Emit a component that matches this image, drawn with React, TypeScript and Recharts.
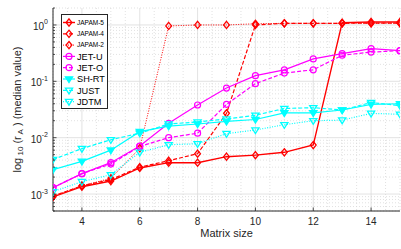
import React from 'react';
import { LineChart, Line, XAxis, YAxis, CartesianGrid, Legend, Label } from 'recharts';

// ---------- data ----------
const sizes = [3, 4, 5, 6, 7, 8, 9, 10, 11, 12, 13, 14, 15];
const japam5 = [0.00089, 0.00135, 0.0017, 0.0029, 0.0036, 0.0036, 0.0046, 0.0049, 0.0055, 0.0074, 1.1, 1.13, 1.13];
const japam4 = [0.00092, 0.0014, 0.0018, 0.003, 0.0039, 0.0052, 0.027, 1.0, 1.07, 1.07, 1.07, 1.08, 1.08];
const japam2 = [0.00092, 0.0014, 0.0019, 0.0065, 0.96, 1.0, 1.0, 1.05, 1.07, 1.07, 1.07, 1.07, 1.07];
const jetU = [0.0013, 0.0023, 0.0036, 0.0071, 0.018, 0.038, 0.076, 0.126, 0.16, 0.25, 0.31, 0.38, 0.35];
const jetO = [0.0013, 0.0023, 0.0034, 0.007, 0.0100, 0.012, 0.039, 0.091, 0.14, 0.16, 0.29, 0.33, 0.35];
const shrt = [0.0027, 0.0038, 0.006, 0.0128, 0.016, 0.0175, 0.0195, 0.021, 0.0276, 0.0276, 0.031, 0.039, 0.04];
const just = [0.0041, 0.0064, 0.0092, 0.012, 0.0175, 0.019, 0.0215, 0.025, 0.033, 0.034, 0.031, 0.042, 0.037];
const jdtm = [0.0011, 0.00166, 0.0022, 0.0055, 0.0075, 0.0078, 0.0118, 0.0137, 0.017, 0.02, 0.0205, 0.027, 0.026];

const xTicks = [4, 6, 8, 10, 12, 14];
const xMinorGrid = [3, 3.5, 4.5, 5, 5.5, 6.5, 7, 7.5, 8.5, 9, 9.5, 10.5, 11, 11.5, 12.5, 13, 13.5, 14.5, 15];
const yMajorTicks = [0.001, 0.01, 0.1, 1];
const yTickExponents = ['-3', '-2', '-1', '0'];
const yMinorTicks = [
  0.0005, 0.0006, 0.0007, 0.0008, 0.0009,
  0.002, 0.003, 0.004, 0.005, 0.006, 0.007, 0.008, 0.009,
  0.02, 0.03, 0.04, 0.05, 0.06, 0.07, 0.08, 0.09,
  0.2, 0.3, 0.4, 0.5, 0.6, 0.7, 0.8, 0.9,
  2,
];
const yAllTicks = [...yMinorTicks, ...yMajorTicks].sort((a, b) => a - b);

const data = sizes.map((s, i) => ({
  size: s,
  japam5: japam5[i],
  japam4: japam4[i],
  japam2: japam2[i],
  jetU: jetU[i],
  jetO: jetO[i],
  shrt: shrt[i],
  just: just[i],
  jdtm: jdtm[i],
}));

const RED = '#ff0000';
const MAG = '#ff00ff';
const CYAN = '#00ffff';
const AX = '#262626';
const FONT = '"Liberation Sans", Arial, Helvetica, sans-serif';

type Series = { key: string; name: string; color: string; dash?: string; marker: 'diamond' | 'circle' | 'tri'; filled?: boolean; width: number; small?: boolean };
const series: Series[] = [
  { key: 'japam5', name: 'JAPAM-5', color: RED, marker: 'diamond', width: 1.4, small: true },
  { key: 'japam4', name: 'JAPAM-4', color: RED, dash: '4 2', marker: 'diamond', width: 1.2, small: true },
  { key: 'japam2', name: 'JAPAM-2', color: RED, dash: '1 1.5', marker: 'diamond', width: 1.0, small: true },
  { key: 'jetU', name: 'JET-U', color: MAG, marker: 'circle', width: 1.2 },
  { key: 'jetO', name: 'JET-O', color: MAG, dash: '4 2', marker: 'circle', width: 1.2 },
  { key: 'shrt', name: 'SH-RT', color: CYAN, marker: 'tri', filled: true, width: 1.2 },
  { key: 'just', name: 'JUST', color: CYAN, dash: '4 2', marker: 'tri', width: 1.2 },
  { key: 'jdtm', name: 'JDTM', color: CYAN, dash: '1 1.5', marker: 'tri', width: 1.2 },
];

function MarkerShape({ s, cx, cy }: { s: Series; cx: number; cy: number }) {
  if (s.marker === 'diamond') {
    const r = 3.6;
    return <path d={`M${cx},${cy - r}L${cx + r * 0.8},${cy}L${cx},${cy + r}L${cx - r * 0.8},${cy}Z`} fill="none" stroke={s.color} strokeWidth={1.3} />;
  }
  if (s.marker === 'circle') {
    return <circle cx={cx} cy={cy} r={3} fill="none" stroke={s.color} strokeWidth={1.2} />;
  }
  const r = 3.6;
  return (
    <path
      d={`M${cx - r},${cy - r * 0.6}L${cx + r},${cy - r * 0.6}L${cx},${cy + r}Z`}
      fill={s.filled ? s.color : 'none'}
      stroke={s.color}
      strokeWidth={1.3}
    />
  );
}

const isMajor = (v: number) => yMajorTicks.some((m) => Math.abs(m - v) / m < 1e-6);

const BottomTick = (props: any) => {
  const { x, y, payload } = props;
  const ay = y - 4;
  return (
    <g>
      <line x1={x} x2={x} y1={ay} y2={ay - 3.5} stroke={AX} strokeWidth={0.8} />
      <text x={x} y={y + 9.5} textAnchor="middle" fontSize={10} fill={AX} fontFamily={FONT}>
        {payload.value}
      </text>
    </g>
  );
};

const TopTick = (props: any) => {
  const { x, y } = props;
  return <line x1={x} x2={x} y1={y} y2={y + 3.5} stroke={AX} strokeWidth={0.8} />;
};

const LeftTick = (props: any) => {
  const { x, y, payload } = props;
  const ax = x + 5;
  const major = isMajor(payload.value);
  const idx = yMajorTicks.findIndex((m) => Math.abs(m - payload.value) / m < 1e-6);
  return (
    <g>
      <line x1={ax} x2={ax + (major ? 3.5 : 2)} y1={y} y2={y} stroke={AX} strokeWidth={0.8} />
      {major && (
        <text x={x} y={y + 5} textAnchor="end" fontSize={10} fill={AX} fontFamily={FONT}>
          10
          <tspan dy={-5.5} fontSize={7}>{yTickExponents[idx]}</tspan>
        </text>
      )}
    </g>
  );
};

const RightTick = (props: any) => {
  const { x, y, payload } = props;
  const major = isMajor(payload.value);
  return <line x1={x} x2={x - (major ? 3.5 : 2)} y1={y} y2={y} stroke={AX} strokeWidth={0.8} />;
};

const YLabel = (props: any) => {
  const vb = props.viewBox || { x: 0, y: 8, width: 53, height: 203 };
  const cx = vb.x + 17;
  const cy = vb.y + vb.height / 2;
  return (
    <text
      x={cx}
      y={cy}
      transform={`rotate(-90, ${cx}, ${cy})`}
      textAnchor="middle"
      dominantBaseline="central"
      fontSize={11}
      fill={AX}
      fontFamily={FONT}
    >
      log
      <tspan dy={3} fontSize={8}> 10</tspan>
      <tspan dy={-3}> (r</tspan>
      <tspan dy={3} fontSize={8}> A</tspan>
      <tspan dy={-3}> ) (median value)</tspan>
    </text>
  );
};

const LegendBox = () => {
  const rowY = (i: number) => 8.5 + i * 11.3;
  return (
    <div style={{ width: 47, height: 95, background: '#fff', border: `1px solid ${AX}`, boxSizing: 'border-box' }}>
      <svg width={45} height={93} style={{ display: 'block' }}>
        {series.map((s, i) => {
          const y = rowY(i) - 1;
          return (
            <g key={s.key}>
              <line x1={1} x2={13} y1={y} y2={y} stroke={s.color} strokeWidth={s.width} strokeDasharray={s.dash} />
              <MarkerShape s={s} cx={7} cy={y} />
              <text
                x={15}
                y={y + (s.small ? 2.3 : 3.3)}
                fontSize={s.small ? 6.5 : 9.2}
                fill="#000"
                fontFamily={FONT}
              >
                {s.name}
              </text>
            </g>
          );
        })}
      </svg>
    </div>
  );
};

export default function App() {
  return (
    <div style={{ position: 'absolute', left: 0, top: 0, width: 401, height: 249, background: '#fff' }}>
      <LineChart width={401} height={249} data={data} margin={{ top: 8, right: 1, left: 0, bottom: 0 }}>
        <CartesianGrid
          horizontalValues={yMajorTicks}
          verticalValues={xTicks}
          stroke="#dcdcdc"
          strokeWidth={0.8}
        />
        <CartesianGrid
          horizontalValues={yMinorTicks}
          verticalValues={xMinorGrid}
          stroke="#d4d4d4"
          strokeWidth={0.7}
          strokeDasharray="1 2"
        />
        <XAxis
          dataKey="size"
          type="number"
          domain={[3, 15]}
          ticks={xTicks}
          interval={0}
          allowDataOverflow
          height={38}
          tickSize={0}
          tickMargin={4}
          tick={<BottomTick />}
          axisLine={{ stroke: AX, strokeWidth: 1 }}
          tickLine={false}
          label={{ value: 'Matrix size', position: 'insideBottom', offset: 12, fontSize: 11, fill: AX, fontFamily: FONT }}
        />
        <XAxis
          xAxisId="top"
          orientation="top"
          dataKey="size"
          type="number"
          domain={[3, 15]}
          ticks={xTicks}
          interval={0}
          allowDataOverflow
          height={0}
          tickSize={0}
          tickMargin={0}
          tick={<TopTick />}
          axisLine={{ stroke: AX, strokeWidth: 1 }}
          tickLine={false}
        />
        <YAxis
          type="number"
          scale="log"
          domain={[0.0005, 2]}
          allowDataOverflow
          ticks={yAllTicks}
          interval={0}
          width={53}
          tickSize={0}
          tickMargin={5}
          tick={<LeftTick />}
          axisLine={{ stroke: AX, strokeWidth: 1 }}
          tickLine={false}
        >
          <Label content={<YLabel />} />
        </YAxis>
        <YAxis
          yAxisId="right"
          orientation="right"
          type="number"
          scale="log"
          domain={[0.0005, 2]}
          allowDataOverflow
          ticks={yAllTicks}
          interval={0}
          width={0}
          tickSize={0}
          tickMargin={0}
          tick={<RightTick />}
          axisLine={{ stroke: AX, strokeWidth: 1 }}
          tickLine={false}
        />
        {series.map((s) => (
          <Line
            key={s.key}
            dataKey={s.key}
            name={s.name}
            type="linear"
            stroke={s.color}
            strokeWidth={s.width}
            strokeDasharray={s.dash}
            isAnimationActive={false}
            dot={(p: any) => <MarkerShape key={`${s.key}-${p.index}`} s={s} cx={p.cx} cy={p.cy} />}
            activeDot={false}
          />
        ))}
        <Legend
          layout="vertical"
          align="center"
          verticalAlign="middle"
          content={<LegendBox />}
          wrapperStyle={{ left: 61, top: 14, width: 47, height: 95 }}
        />
      </LineChart>
    </div>
  );
}
